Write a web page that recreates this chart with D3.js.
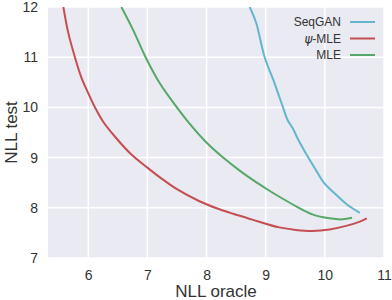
<!DOCTYPE html>
<html>
<head>
<meta charset="utf-8">
<script src="https://cdn.jsdelivr.net/npm/d3@7"></script>
<style>
  body { margin: 0; background: #fff; }
  svg text { font-family: "Liberation Sans", Arial, sans-serif; fill: #333; }
</style>
</head>
<body>
<svg id="chart" width="392" height="300"></svg>
<script>
// tick values
var xTicks = [6, 7, 8, 9, 10, 11];
var yTicks = [7, 8, 9, 10, 11, 12];

// series: [NLL oracle, NLL test]
var seqgan = [[8.73, 12.0], [8.84, 11.68], [8.98, 11.01], [9.15, 10.48], [9.29, 10.01],
  [9.37, 9.75], [9.46, 9.58], [9.54, 9.38], [9.71, 9.02], [9.85, 8.75], [9.99, 8.49],
  [10.19, 8.26], [10.38, 8.06], [10.59, 7.90]];
var psiMle = [[5.58, 12.0], [5.66, 11.5], [5.78, 10.98], [5.88, 10.61], [5.99, 10.31],
  [6.11, 10.01], [6.25, 9.72], [6.45, 9.42], [6.73, 9.06], [7.01, 8.79], [7.23, 8.59],
  [7.5, 8.37], [7.88, 8.13], [8.17, 7.99], [8.45, 7.88], [8.76, 7.77], [9.23, 7.61],
  [9.51, 7.56], [9.79, 7.54], [10.08, 7.57], [10.36, 7.64], [10.58, 7.72], [10.71, 7.79]];
var mle = [[6.56, 12.0], [6.76, 11.54], [6.97, 11.0], [7.21, 10.48], [7.48, 10.03],
  [7.71, 9.68], [7.99, 9.31], [8.28, 9.0], [8.56, 8.74], [8.8, 8.54], [9.01, 8.38],
  [9.26, 8.2], [9.53, 8.02], [9.79, 7.87], [10.08, 7.79], [10.30, 7.77], [10.46, 7.80]];

var seriesNames = ["SeqGAN", "\u03c8-MLE", "MLE"];
var seriesData = [seqgan, psiMle, mle];
var colors = ["#64b5cd", "#c44e52", "#55a868"];

var svg = d3.select("#chart");
var pLeft = 48, pRight = 384, pTop = 7, pBottom = 258;

var x = d3.scaleLinear().domain([5.32, 11]).range([pLeft, pRight]);
var y = d3.scaleLinear().domain([7, 12]).range([pBottom, pTop]);

// background
svg.append("rect")
   .attr("x", pLeft).attr("y", pTop)
   .attr("width", pRight - pLeft).attr("height", pBottom - pTop)
   .attr("fill", "#eaeaf2");

// grid
var grid = svg.append("g");
grid.selectAll(".gx").data(xTicks).enter().append("line")
    .attr("x1", d => x(d)).attr("x2", d => x(d))
    .attr("y1", pTop).attr("y2", pBottom)
    .attr("stroke", "#fff").attr("stroke-width", 1.5);
grid.selectAll(".gy").data(yTicks).enter().append("line")
    .attr("x1", pLeft).attr("x2", pRight)
    .attr("y1", d => y(d)).attr("y2", d => y(d))
    .attr("stroke", "#fff").attr("stroke-width", 1.5);

// axes (labels only, seaborn style)
var xAxis = svg.append("g")
   .attr("transform", "translate(0," + pBottom + ")")
   .call(d3.axisBottom(x).tickValues(xTicks).tickSize(0).tickPadding(12).tickFormat(d3.format("d")));
var yAxis = svg.append("g")
   .attr("transform", "translate(" + pLeft + ",0)")
   .call(d3.axisLeft(y).tickValues(yTicks).tickSize(0).tickPadding(10).tickFormat(d3.format("d")));
[xAxis, yAxis].forEach(function(a) {
  a.select(".domain").remove();
  a.selectAll("text").style("font-size", "14px").attr("fill", "#333")
   .style("font-family", "'Liberation Sans', Arial, sans-serif");
});

// lines
var line = d3.line().curve(d3.curveCatmullRom)
  .x(d => x(d[0])).y(d => y(d[1]));

svg.append("defs").append("clipPath").attr("id", "clip")
   .append("rect").attr("x", pLeft).attr("y", pTop)
   .attr("width", pRight - pLeft).attr("height", pBottom - pTop);

var plot = svg.append("g").attr("clip-path", "url(#clip)");
seriesData.forEach(function(s, i) {
  plot.append("path")
      .attr("d", line(s))
      .attr("fill", "none")
      .attr("stroke", colors[i])
      .attr("stroke-width", 2);
});

// axis labels
svg.append("text")
   .attr("x", (pLeft + pRight) / 2).attr("y", 297)
   .attr("text-anchor", "middle")
   .style("font-size", "17px")
   .text("NLL oracle");
svg.append("text")
   .attr("transform", "translate(17," + ((pTop + pBottom) / 2) + ") rotate(-90)")
   .attr("text-anchor", "middle")
   .style("font-size", "17px")
   .text("NLL test");

// legend
var legend = svg.append("g");
seriesNames.forEach(function(name, i) {
  var ly = 22 + i * 16.5;
  legend.append("line")
        .attr("x1", 350).attr("x2", 375)
        .attr("y1", ly).attr("y2", ly)
        .attr("stroke", colors[i]).attr("stroke-width", 2);
  var t = legend.append("text")
        .attr("x", 341).attr("y", ly + 4)
        .attr("text-anchor", "end")
        .style("font-size", "12px");
  if (name.charAt(0) === "\u03c8") {
    t.append("tspan").style("font-style", "italic")
     .style("font-family", "'DejaVu Sans', sans-serif").text("\u03c8");
    t.append("tspan").text(name.slice(1));
  } else {
    t.text(name);
  }
});
</script>
</body>
</html>
